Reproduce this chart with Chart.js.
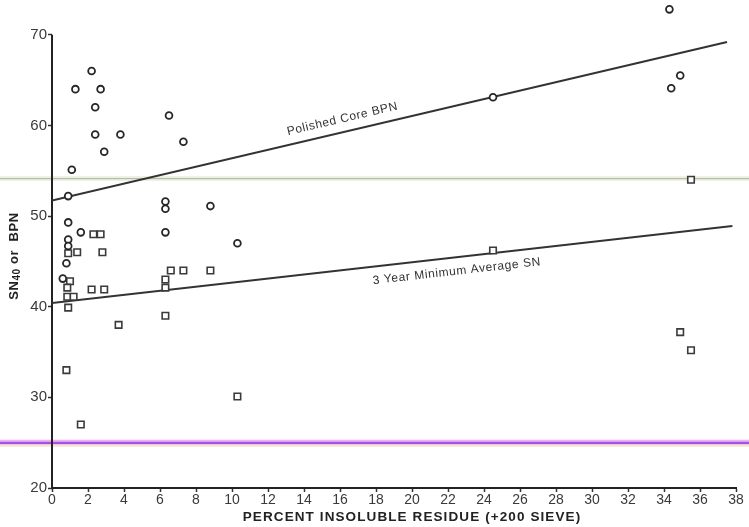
<!DOCTYPE html>
<html>
<head>
<meta charset="utf-8">
<script src="https://cdn.jsdelivr.net/npm/chart.js@4/dist/chart.umd.min.js"></script>
<style>
  html, body { margin: 0; padding: 0; background: #fff; }
  #wrap { width: 749px; height: 527px; }
</style>
</head>
<body>
<div id="wrap"><canvas id="c" width="749" height="527"></canvas></div>
<script>
// Polished core BPN (circles)
const bpnX = [2.2, 1.3, 2.7, 2.4, 2.4, 3.8, 2.9, 6.5, 7.3, 1.1, 0.9, 0.9, 1.6, 6.3, 6.3, 8.8, 6.3, 10.3, 0.9, 0.9, 0.8, 0.6, 24.5, 34.3, 34.9, 34.4];
const bpnY = [66, 64, 64, 62, 59, 59, 57.1, 61.1, 58.2, 55.1, 52.2, 49.3, 48.2, 51.6, 50.8, 51.1, 48.2, 47, 47.4, 46.7, 44.8, 43.1, 63.1, 72.8, 65.5, 64.1];

// 3 year minimum average SN40 (squares)
const snX = [2.3, 2.7, 0.9, 1.4, 2.8, 1.0, 0.85, 2.2, 2.9, 0.85, 1.2, 0.9, 3.7, 6.6, 7.3, 8.8, 6.3, 6.3, 6.3, 0.8, 1.6, 10.3, 24.5, 35.5, 34.9, 35.5];
const snY = [48, 48, 45.9, 46, 46, 42.8, 42.1, 41.9, 41.9, 41.1, 41.1, 39.9, 38, 44, 44, 44, 43, 42.1, 39, 33, 27, 30.1, 46.2, 54, 37.2, 35.2];

// Fitted trend lines (end points)
const bpnFitX = [0, 37.5];
const bpnFitY = [51.7, 69.2];
const snFitX = [0, 37.8];
const snFitY = [40.4, 48.9];

// Axis ticks
const xTicks = [0, 2, 4, 6, 8, 10, 12, 14, 16, 18, 20, 22, 24, 26, 28, 30, 32, 34, 36, 38];
const yTicks = [20, 30, 40, 50, 60, 70];

// Horizontal reference levels
const refLevels = [54.2, 25];

// Texts
const bpnLabel = 'Polished Core BPN';
const snLabel = '3 Year Minimum Average SN';
const xTitle = 'PERCENT INSOLUBLE RESIDUE (+200 SIEVE)';

const toPts = (xs, ys) => xs.map((x, i) => ({ x, y: ys[i] }));

const ink = '#262626';
const tickFont = '"Liberation Sans", Arial, sans-serif';

const annotate = {
  id: 'annotate',
  beforeDatasetsDraw(chart) {
    const { ctx, scales: { x, y }, width } = chart;
    ctx.save();
    // upper pale level line
    let py = y.getPixelForValue(refLevels[0]);
    ctx.fillStyle = '#eef2e6';
    ctx.fillRect(0, py - 2, width, 5);
    ctx.fillStyle = '#b4bca6';
    ctx.fillRect(0, py, width, 1.2);
    // lower purple level line
    py = y.getPixelForValue(refLevels[1]);
    ctx.fillStyle = '#f7e2d4';
    ctx.fillRect(0, py + 1, width, 3);
    ctx.fillStyle = '#e8b4ee';
    ctx.fillRect(0, py - 3, width, 2);
    ctx.fillStyle = '#a94ee6';
    ctx.fillRect(0, py - 1, width, 2.5);

    // vertical axis line, from the lowest to the highest tick
    const ax = x.getPixelForValue(0);
    ctx.strokeStyle = '#222';
    ctx.lineWidth = 2;
    ctx.beginPath();
    ctx.moveTo(ax, y.getPixelForValue(yTicks[0]) + 1);
    ctx.lineTo(ax, y.getPixelForValue(yTicks[yTicks.length - 1]));
    ctx.stroke();
    ctx.restore();
  },
  afterDraw(chart) {
    const { ctx, scales: { x, y } } = chart;
    ctx.save();

    // labels along the fitted lines
    const lineLabel = (fx, fy, text, at, offset) => {
      const x0 = x.getPixelForValue(fx[0]), y0 = y.getPixelForValue(fy[0]);
      const x1 = x.getPixelForValue(fx[1]), y1 = y.getPixelForValue(fy[1]);
      const ang = Math.atan2(y1 - y0, x1 - x0);
      const vy = fy[0] + (fy[1] - fy[0]) * (at - fx[0]) / (fx[1] - fx[0]);
      ctx.save();
      ctx.translate(x.getPixelForValue(at), y.getPixelForValue(vy));
      ctx.rotate(ang);
      ctx.font = '12px "Liberation Sans", Arial, sans-serif';
      ctx.letterSpacing = '0.6px';
      ctx.fillStyle = '#333';
      ctx.textAlign = 'center';
      ctx.textBaseline = 'middle';
      ctx.fillText(text, 0, offset);
      ctx.restore();
    };
    lineLabel(bpnFitX, bpnFitY, bpnLabel, 16.3, -13);
    lineLabel(snFitX, snFitY, snLabel, 22.4, 14);

    // x axis title
    ctx.font = 'bold 13.5px "Liberation Sans", Arial, sans-serif';
    ctx.letterSpacing = '1.1px';
    ctx.fillStyle = '#222';
    ctx.textAlign = 'center';
    ctx.textBaseline = 'middle';
    ctx.fillText(xTitle, 412, 517);

    // y axis title with subscript
    ctx.letterSpacing = '0.6px';
    ctx.translate(14, 256);
    ctx.rotate(-Math.PI / 2);
    const big = 'bold 13px "Liberation Sans", Arial, sans-serif';
    const small = 'bold 10px "Liberation Sans", Arial, sans-serif';
    const parts = [['SN', big, 0], ['40', small, 3], [' or  BPN', big, 0]];
    let total = 0;
    parts.forEach(p => { ctx.font = p[1]; total += ctx.measureText(p[0]).width; });
    let cx = -total / 2;
    ctx.textAlign = 'left';
    parts.forEach(p => {
      ctx.font = p[1];
      ctx.fillText(p[0], cx, p[2]);
      cx += ctx.measureText(p[0]).width;
    });
    ctx.restore();
  }
};

new Chart(document.getElementById('c'), {
  type: 'scatter',
  data: {
    datasets: [
      {
        label: 'BPN',
        data: toPts(bpnX, bpnY),
        pointStyle: 'circle',
        pointRadius: 3.4,
        borderWidth: 1.8,
        borderColor: ink,
        backgroundColor: '#fff',
        clip: false
      },
      {
        label: 'SN40',
        data: toPts(snX, snY),
        pointStyle: 'rect',
        pointRadius: 4.6,
        borderWidth: 1.6,
        borderColor: '#3a3a3a',
        backgroundColor: '#fff',
        clip: false
      },
      {
        label: bpnLabel,
        type: 'line',
        data: toPts(bpnFitX, bpnFitY),
        borderColor: '#333',
        borderWidth: 2,
        pointRadius: 0,
        fill: false,
        order: 5
      },
      {
        label: snLabel,
        type: 'line',
        data: toPts(snFitX, snFitY),
        borderColor: '#333',
        borderWidth: 2,
        pointRadius: 0,
        fill: false,
        order: 5
      }
    ]
  },
  options: {
    responsive: false,
    animation: false,
    layout: { padding: { top: 0, right: 13, bottom: 0, left: 0 } },
    plugins: { legend: { display: false }, tooltip: { enabled: false } },
    scales: {
      x: {
        type: 'linear',
        min: 0,
        max: 38,
        afterBuildTicks: s => { s.ticks = xTicks.map(v => ({ value: v })); },
        afterFit: s => { s.height = 39; },
        border: { display: true, color: '#222', width: 2 },
        grid: { drawOnChartArea: false, tickLength: 4, color: '#333', tickWidth: 1.5 },
        ticks: {
          color: '#3a3a3a',
          font: { family: tickFont, size: 14 },
          padding: 0,
          maxRotation: 0,
          autoSkip: false
        }
      },
      y: {
        type: 'linear',
        min: 20,
        max: 73.15,
        afterBuildTicks: s => { s.ticks = yTicks.map(v => ({ value: v })); },
        afterFit: s => { s.width = 52; s.paddingTop = 0; s.paddingBottom = 0; },
        border: { display: false },
        grid: { drawOnChartArea: false, tickLength: 4, color: '#333', tickWidth: 1.5 },
        ticks: {
          color: '#3a3a3a',
          font: { family: tickFont, size: 15 },
          padding: 1
        }
      }
    }
  },
  plugins: [annotate]
});
</script>
</body>
</html>
